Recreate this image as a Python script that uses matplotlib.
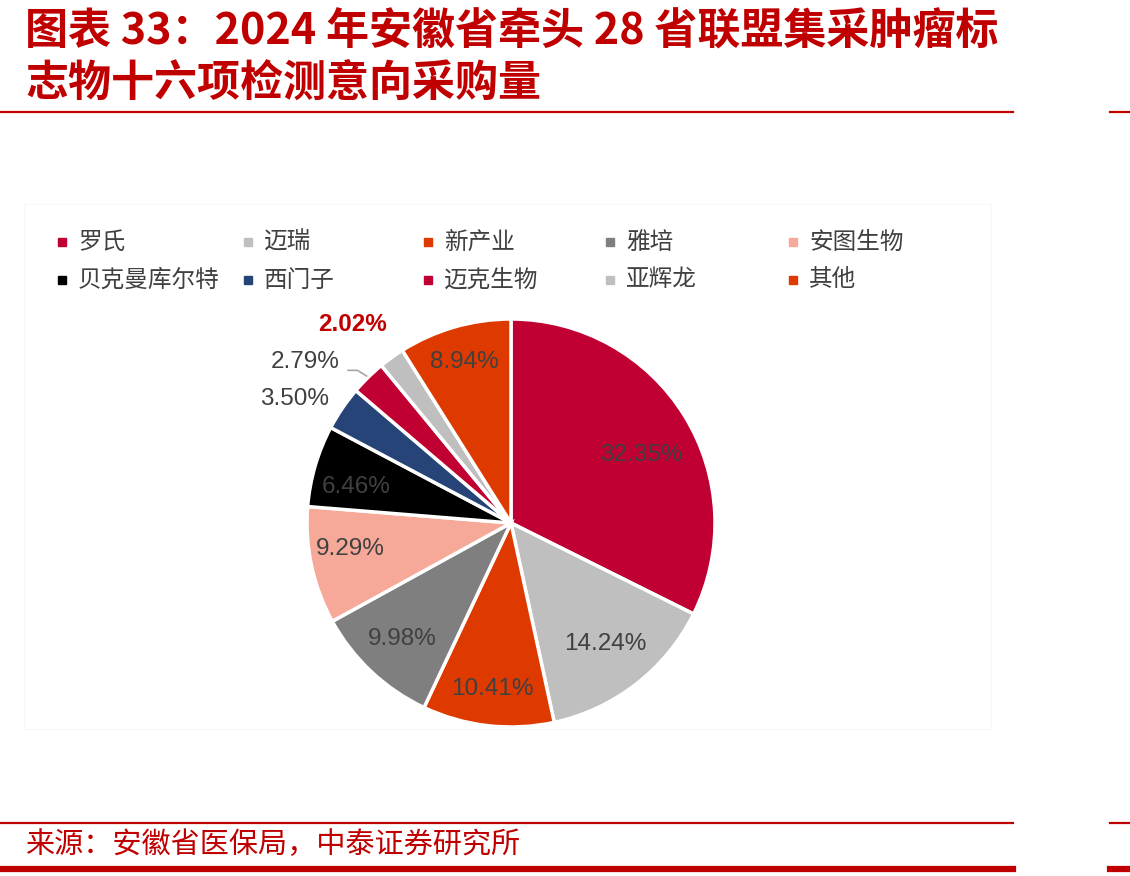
import numpy as np
import matplotlib.pyplot as plt
from matplotlib.lines import Line2D
from matplotlib.patches import Rectangle

plt.rcParams['font.family'] = ['Noto Sans CJK SC', 'DejaVu Sans']

names = ['罗氏', '迈瑞', '新产业', '雅培', '安图生物',
         '贝克曼库尔特', '西门子', '迈克生物', '亚辉龙', '其他']
shares = [32.35, 14.24, 10.41, 9.98, 9.29, 6.46, 3.50, 2.79, 2.02, 8.94]
colors = ['#C00033', '#BFBFBF', '#DE3A00', '#7F7F7F', '#F7A999',
          '#000000', '#264478', '#C00033', '#BFBFBF', '#DE3A00']
title1 = '图表 33：2024 年安徽省牵头 28 省联盟集采肿瘤标'
title2 = '志物十六项检测意向采购量'
source = '来源：安徽省医保局，中泰证券研究所'

W, H = 1130, 876
red = '#C00000'
fig = plt.figure(figsize=(W / 100, H / 100), dpi=100)

def fx(px):
    return px / W

def fy(py):
    return 1 - py / H

# title
fig.text(fx(25), fy(32), title1, color=red, fontsize=31, fontweight='bold',
         fontstyle='italic', va='center', ha='left')
fig.text(fx(25), fy(84), title2, color=red, fontsize=31, fontweight='bold',
         fontstyle='italic', va='center', ha='left')

# red rules
def rule(y, x0, x1, lw):
    fig.add_artist(Line2D([fx(x0), fx(x1)], [fy(y), fy(y)], color=red, lw=lw))

rule(112, 0, 1013, 1.6)
rule(112, 1110, 1130, 1.6)
rule(823, 0, 1013, 1.6)
rule(823, 1110, 1130, 1.6)
rule(869, 0, 1013, 4.5)
rule(869, 1110, 1130, 4.5)

fig.text(fx(25), fy(845), source, color=red, fontsize=21, va='center', ha='left')

# faint chart-area frame
fig.add_artist(Rectangle((fx(24), fy(729)), fx(991 - 24), (729 - 204) / H,
                         fill=False, edgecolor='#F8F8F8', lw=0.8,
                         transform=fig.transFigure))

# legend (manual, fixed column spacing)
col_x = [62, 248, 428, 610, 793]
row_y = [242, 280]
for i, (nm, c) in enumerate(zip(names, colors)):
    x = col_x[i % 5]
    y = row_y[i // 5]
    fig.add_artist(Rectangle((fx(x - 4), fy(y + 4)), fx(8), 8 / H, color=c,
                             transform=fig.transFigure))
    fig.text(fx(x + 16), fy(y), nm, color='#404040', fontsize=17,
             va='center', ha='left')

# pie
cx, cy, r = 511, 523, 204
ax = fig.add_axes([fx(cx - r), fy(cy + r), 2 * r / W, 2 * r / H])
wedges, _ = ax.pie(shares, colors=colors, startangle=90, counterclock=False,
                   radius=1, wedgeprops=dict(edgecolor='white', linewidth=2.5))
ax.set_xlim(-1, 1)
ax.set_ylim(-1, 1)
ax.set_aspect('equal')
ax.axis('off')

# label radius and angle shift per slice
dist = [0.72, 0.75, 0.82, 0.78, 0.80, 0.78, 1.22, 1.28, 1.245, 0.82]
shift = [-4, 0, 0, 0, -3, 3, 4.4, 7.5, 2.8, 0]
lab_font = ['Liberation Sans', 'DejaVu Sans']
for i, (w, v) in enumerate(zip(wedges, shares)):
    ang = np.deg2rad((w.theta1 + w.theta2) / 2 + shift[i])
    x, y = dist[i] * np.cos(ang), dist[i] * np.sin(ang)
    kw = dict(ha='center', va='center', fontsize=17.5, family=lab_font,
              color='#404040')
    if i == 8:
        kw.update(color=red, fontweight='bold')
    ax.text(x, y, f'{v:.2f}%', clip_on=False, **kw)
    if i == 7:
        mid = np.deg2rad((w.theta1 + w.theta2) / 2)
        ex, ey = 1.01 * np.cos(mid), 1.01 * np.sin(mid)
        ax.plot([x + 0.21, ex - 0.045, ex], [y - 0.04, y - 0.04, ey],
                color='#A6A6A6', lw=1.2, clip_on=False)

fig.savefig('out.png', dpi=100)
